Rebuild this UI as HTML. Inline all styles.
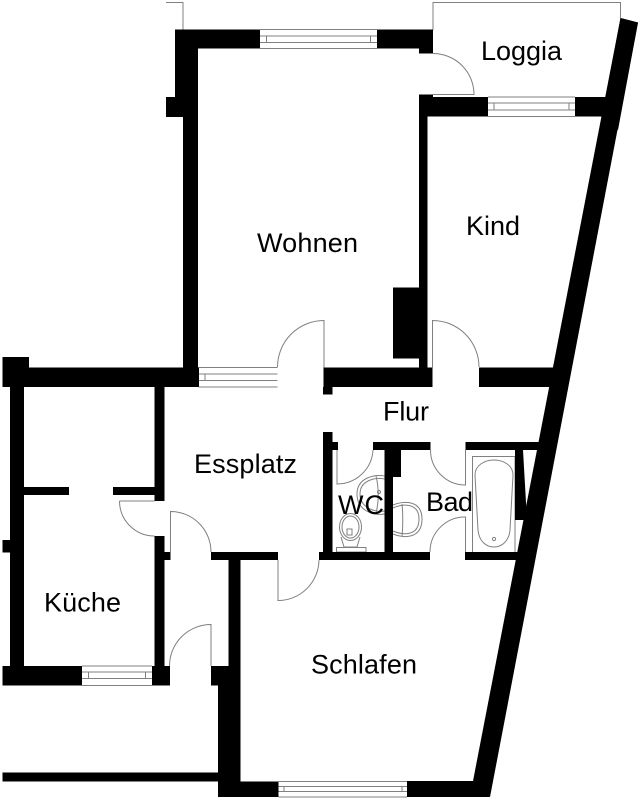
<!DOCTYPE html>
<html>
<head>
<meta charset="utf-8">
<style>
html,body{margin:0;padding:0;background:#fff;}
svg{display:block;}
text{font-family:"Liberation Sans",Arial,sans-serif;font-size:27px;fill:#000;}
</style>
</head>
<body>
<svg width="641" height="800" viewBox="0 0 641 800" xmlns="http://www.w3.org/2000/svg">
<rect width="641" height="800" fill="#fff"/>

<!-- Thin outlines, doors and windows -->
<g fill="none" stroke="#808080" stroke-width="1">
  <path d="M166 2.5H183V30"/>
  <path d="M433 30V2.5H620.5V18"/>
  <path d="M433 53.5A41 41 0 0 1 474 94.5H433"/>
  <!-- doors -->
  <path d="M324 367.5V320.5A46.5 46.5 0 0 0 277.5 367"/>
  <path d="M432.5 367.5V320.5A46.5 46.5 0 0 1 479 367"/>
  <path d="M119.5 501H154.5M119.5 501A35 35 0 0 0 154.5 536"/>
  <path d="M170.5 552V511.5A40.5 40.5 0 0 1 211 552"/>
  <path d="M211 666V624.5A41.5 41.5 0 0 0 169.5 666"/>
  <path d="M278 560V600.5A41 41 0 0 0 319 560"/>
  <path d="M337 450V484A36 36 0 0 0 373 450"/>
  <path d="M465.5 450V485A35 35 0 0 1 430.5 450"/>
  <path d="M465.5 552V517A35 35 0 0 0 430 552"/>
  <!-- windows -->
  <path d="M260 29.5H377M260 36H377M260 42.5H377M260 48.5H377M266.5 36V42.5M370.5 36V42.5"/>
  <path d="M488 97H575M488 103H575M488 110H575M488 116.5H575M494 103V110M569 103V110"/>
  <path d="M198.5 367.5H277.5M198.5 374H277.5M198.5 380.5H277.5M198.5 387H277.5M205 374V380.5"/>
  <path d="M82 666H152M82 672H152M82 678.5H152M82 685.5H152M88.5 672V678.5M145.5 672V678.5"/>
  <path d="M278.5 781.5H407M278.5 786.5H407M278.5 791.5H407M278.5 797H407M284 786.5V791.5M402 786.5V791.5"/>
  <!-- bath -->
  <path d="M472.5 552V456.5H515V552"/>
  <path d="M475 475C475 465 485 460 494 460C503 460 513 465 513 475L510 530C509 541 502 547 494 547C486 547 479 541 478 530Z"/>
  <circle cx="494" cy="539" r="1.6"/>
  <!-- toilet -->
  <ellipse cx="350.5" cy="527" rx="11" ry="13.5"/>
  <ellipse cx="350.5" cy="527" rx="8.5" ry="11"/>
  <path d="M341 537L344 547H357L360 537"/>
  <rect x="347" y="529" width="5" height="6"/>
  <rect x="336.5" y="547.5" width="29.5" height="4.5"/>
  <!-- WC sink -->
  <path d="M384.5 476C374 474 357 478 357 494C357 511 374 516 384.5 514"/>
  <path d="M384.5 479C376 477 360 480 360 494C360 508 376 513 384.5 511"/>
  <path d="M376 476C379 488 379 502 376 513"/>
  <circle cx="379" cy="492" r="1.5"/>
  <!-- Bad sink -->
  <path d="M393 505C402 501 422 499 422 519C422 540 402 538 393 534"/>
  <path d="M393 508C402 504 419 502 419 519C419 537 402 535 393 531"/>
  <path d="M402 504C403 513 403 528 402 536"/>
</g>

<!-- Walls -->
<g fill="#000" stroke="none">
  <!-- upper left -->
  <path d="M175 29.5H260V48.5H198V368H183V117H166V97H175Z"/>
  <path d="M377 29.5H433V53.5H419V48.5H377Z"/>
  <!-- upper right wall and window block -->
  <path d="M419 94.5H433V97H488V116.5H427.5V367.5H419Z"/>
  <polygon points="575,97 606,97 620.5,18 638,22.5 618,130 601,116.5 575,116.5"/>
  <!-- diagonal wall -->
  <polygon points="620.5,18 638,22.5 490,797 473,781"/>
  <!-- box -->
  <rect x="393" y="287.5" width="26" height="71"/>
  <!-- bar between rooms -->
  <path d="M2.5 357H29V367.5H199V387H2.5Z"/>
  <rect x="323.5" y="367.5" width="109" height="19.5"/>
  <rect x="323" y="387" width="9.5" height="7.5"/>
  <polygon points="479,367.5 556,367.5 552,387 479,387"/>
  <!-- kitchen -->
  <rect x="10" y="387" width="14" height="279"/>
  <rect x="2.5" y="540" width="8" height="12.5"/>
  <rect x="24" y="487" width="45" height="8"/>
  <rect x="113" y="487" width="42" height="8"/>
  <rect x="154.5" y="387" width="10" height="114"/>
  <rect x="154.5" y="536" width="10" height="130"/>
  <rect x="164" y="552" width="6.5" height="8"/>
  <rect x="2.5" y="666" width="79.5" height="19.5"/>
  <rect x="152" y="666" width="18" height="19.5"/>
  <!-- hall -->
  <rect x="211" y="552" width="67" height="8"/>
  <rect x="228.5" y="560" width="12" height="106"/>
  <path d="M211 666H240.5V781.5H278.5V797H218V685.5H211Z"/>
  <rect x="2.5" y="772.5" width="216" height="9"/>
  <polygon points="407,781 476,781 490,797 407,797"/>
  <!-- wet rooms -->
  <rect x="323" y="432" width="9.5" height="120"/>
  <rect x="323" y="442" width="15" height="8"/>
  <rect x="373" y="442" width="57.5" height="8"/>
  <rect x="384.5" y="450" width="8.5" height="102"/>
  <rect x="384.5" y="450" width="16.5" height="27"/>
  <rect x="319" y="552" width="111" height="8"/>
  <polygon points="465.5,442 540,442 538,450 465.5,450"/>
  <polygon points="515,450 523,450 527,520 515,520"/>
  <polygon points="465,552 518,552 516,560 465,560"/>
</g>

<!-- Room labels -->
<text x="481" y="60" textLength="81">Loggia</text>
<text x="257" y="252" textLength="101">Wohnen</text>
<text x="466" y="235" textLength="54">Kind</text>
<text x="383" y="420.5" textLength="46">Flur</text>
<text x="194" y="473" textLength="103">Essplatz</text>
<text x="338" y="514" textLength="46">WC</text>
<text x="426" y="511" textLength="47">Bad</text>
<text x="44" y="611.5" textLength="77">Küche</text>
<text x="311" y="673.5" textLength="106">Schlafen</text>
</svg>
</body>
</html>
